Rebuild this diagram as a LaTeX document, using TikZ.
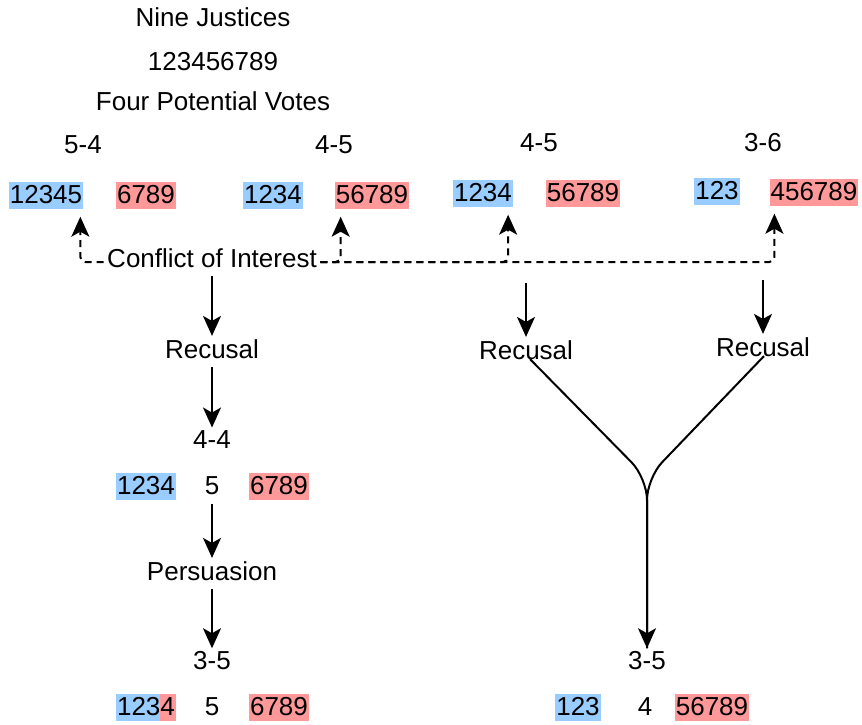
\documentclass[tikz,border=0pt]{standalone}
\usepackage{fontspec}
\setmainfont{Liberation Sans}
\usepackage{tikz}
\usetikzlibrary{arrows.meta, positioning, calc}
\definecolor{yesblue}{HTML}{99CCFF}
\definecolor{nored}{HTML}{FF9999}
\tikzset{
  txt/.style={font=\fontsize{26}{31}\selectfont},
  yes/.style={txt, fill=yesblue, inner xsep=1pt, inner ysep=3pt, minimum height=27pt},
  no/.style={txt, fill=nored, inner xsep=1pt, inner ysep=3pt, minimum height=27pt},
  swing/.style={txt, inner xsep=1pt, inner ysep=3pt, minimum height=27pt,
    path picture={
      \fill[yesblue] (path picture bounding box.south west) rectangle ([xshift=-15.5pt]path picture bounding box.north east);
      \fill[nored] ([xshift=-15.5pt]path picture bounding box.south east) rectangle (path picture bounding box.north east);}},
  tip/.style={-{Stealth[length=20pt, width=18pt, inset=5pt]}},
  arrow/.style={line width=2pt, tip, shorten <=5pt},
  dashedarrow/.style={line width=2pt, dash pattern=on 7pt off 5pt, tip, rounded corners=5pt},
  line/.style={line width=2pt, rounded corners=22pt}
}

\begin{document}
\begin{tikzpicture}[x=1pt, y=-1pt]
\useasboundingbox (0,0) rectangle (862,725);
% header
\node[txt] (title) at (213,17) {Nine Justices};
\node[txt] (ids) at (213,62) {123456789};
\node[txt] (four) at (213,101) {Four Potential Votes};

% the four possible votes
\node[txt] (v1) at (83,145) {5-4};
\node[txt] (v2) at (334,145) {4-5};
\node[txt] (v3) at (539,143) {4-5};
\node[txt] (v4) at (763,143) {3-6};

\node[yes] (y1) at (46,195) {12345};
\node[no] (n1) at (146,195) {6789};
\node[yes] (y2) at (273,195) {1234};
\node[no] (n2) at (372,195) {56789};
\node[yes] (y3) at (483,193) {1234};
\node[no] (n3) at (583,193) {56789};
\node[yes] (y4) at (717,191) {123};
\node[no] (n4) at (814,192) {456789};

\node[txt] (conflict) at (212,258) {Conflict of Interest};

\draw[dashedarrow] ([yshift=-4pt]conflict.west) -| ([xshift=-3pt, yshift=-8pt]y1.south east);
\draw[dashedarrow] ([yshift=-4pt]conflict.east) -| ([xshift=6pt, yshift=-8pt]n2.south west);
\draw[dashedarrow] ([yshift=-4pt]conflict.east) -| ([xshift=-5pt, yshift=-8pt]y3.south east);
\draw[dashedarrow] ([yshift=-4pt]conflict.east) -| ([xshift=5pt, yshift=-8pt]n4.south west);

% left branch
\node[txt] (rec1) at (212,349) {Recusal};
\node[txt] (tie) at (212,440) {4-4};
\node[yes] (y5) at (146,486) {1234};
\node[txt] (m5) at (212,486) {5};
\node[no] (n5) at (279,486) {6789};
\node[txt] (pers) at (212,571) {Persuasion};
\node[txt] (res1) at (212,661) {3-5};
\node[swing] (y6) at (146,707) {1234};
\node[txt] (m6) at (212,707) {5};
\node[no] (n6) at (279,707) {6789};

\draw[arrow] (conflict) -- (rec1);
\draw[arrow] (rec1) -- (tie);
\draw[arrow] (m5) -- (pers);
\draw[arrow] (pers) -- (res1);

% right branches
\coordinate (top2) at (526,278);
\coordinate (top3) at (763,275);
\node[txt] (rec2) at (526,350) {Recusal};
\node[txt] (rec3) at (763,347) {Recusal};
\node[txt] (res2) at (647,661) {3-5};
\node[yes] (y7) at (578,707) {123};
\node[txt] (m7) at (645,707) {4};
\node[no] (n7) at (712,707) {56789};

\draw[arrow] (top2) -- (rec2);
\draw[arrow] (top3) -- (rec3);

\coordinate (merge) at (647,478);
\draw[line] ([xshift=4pt, yshift=4pt]rec2.south) -- (merge) -- (res2.north);
\draw[line, tip] ([xshift=1pt, yshift=4pt]rec3.south) -- (merge) -- (res2.north);
\end{tikzpicture}
\end{document}
